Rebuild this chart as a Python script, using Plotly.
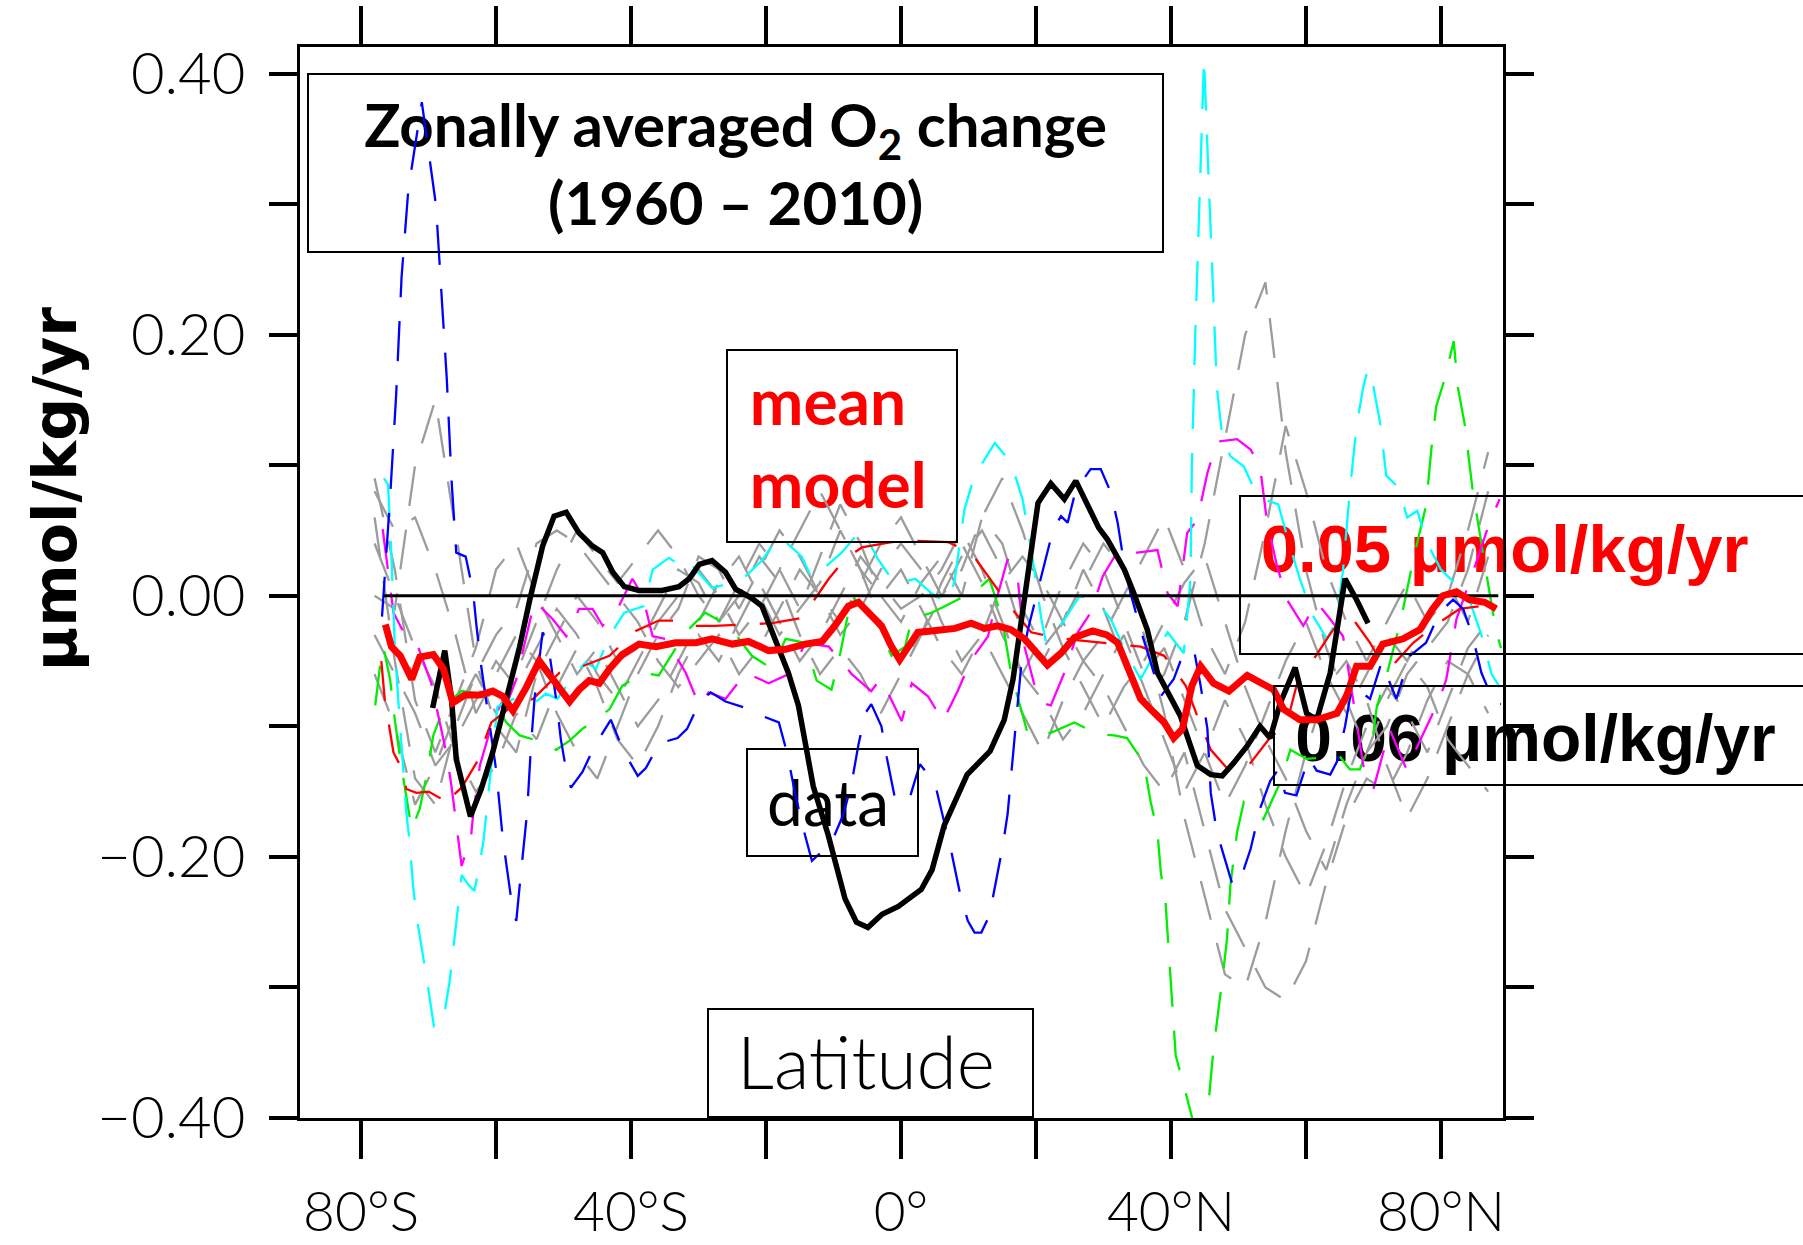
import plotly.graph_objects as go

# ---------------- data ----------------
LAT_GRID = [-78, -75, -72, -69, -66, -63, -60, -57, -54, -51,
            -48, -45, -42, -39, -36, -33, -30, -27, -24, -21,
            -18, -15, -12, -9, -6, -3, 0, 3, 6, 9,
            12, 15, 18, 21, 24, 27, 30, 33, 36, 39,
            42, 45, 48, 51, 54, 57, 60, 63, 66, 69,
            72, 75, 78, 81, 84, 87]

GREY_1 = [0.00, -0.01, 0.10, 0.15, 0.05, -0.05, -0.10, -0.12, -0.06, -0.03,
          0.00, -0.02, -0.05, -0.04, -0.01, 0.02, 0.01, -0.02, 0.01, 0.04,
          0.02, -0.01, 0.03, 0.07, 0.04, 0.00, -0.02, 0.01, 0.03, 0.00,
          0.06, 0.04, -0.01, -0.04, -0.02, 0.02, -0.01, -0.05, -0.08, -0.06,
          -0.02, 0.04, 0.12, 0.20, 0.24, 0.11, 0.02, -0.04, -0.08, -0.12,
          -0.10, -0.06, -0.04, -0.02, 0.02, 0.08]
GREY_2 = [0.06, -0.05, -0.14, -0.16, -0.10, -0.06, -0.03, -0.01, 0.04, 0.05,
          0.04, 0.02, 0.00, -0.02, -0.05, -0.07, -0.05, -0.03, -0.06, -0.04,
          -0.01, 0.02, 0.00, -0.03, -0.01, 0.02, 0.04, 0.02, -0.02, -0.05,
          -0.03, -0.06, -0.09, -0.12, -0.08, -0.05, -0.07, -0.10, -0.13, -0.15,
          -0.12, -0.18, -0.24, -0.27, -0.30, -0.31, -0.28, -0.22, -0.17, -0.14,
          -0.15, -0.12, -0.08, -0.05, -0.06, -0.09]
GREY_3 = [0.09, 0.02, -0.08, -0.12, -0.08, -0.04, 0.02, 0.04, 0.00, -0.03,
          -0.06, -0.04, -0.07, -0.10, -0.08, -0.05, -0.02, 0.01, 0.03, 0.00,
          -0.03, -0.01, 0.01, 0.05, 0.02, -0.02, -0.05, -0.03, 0.00, 0.03,
          0.05, 0.02, -0.03, -0.05, -0.02, 0.01, 0.04, 0.02, -0.03, -0.09,
          -0.17, -0.23, -0.29, -0.30, -0.25, -0.18, -0.12, -0.07, -0.05, -0.08,
          -0.13, -0.17, -0.14, -0.10, -0.06, -0.03]
GREY_4 = [-0.03, -0.06, -0.09, -0.13, -0.11, -0.08, -0.05, -0.07, -0.04, -0.01,
          -0.03, -0.06, -0.08, -0.05, -0.02, 0.00, 0.02, 0.00, -0.03, -0.01,
          0.02, 0.05, 0.08, 0.05, 0.02, 0.00, 0.02, -0.01, -0.04, -0.06,
          -0.03, 0.01, 0.03, 0.01, -0.02, -0.05, -0.03, 0.00, 0.03, 0.06,
          0.02, -0.03, -0.06, -0.02, 0.05, 0.13, 0.08, 0.02, -0.02, -0.05,
          -0.02, 0.01, -0.02, 0.00, 0.05, 0.11]
GREY_5 = [0.04, 0.00, -0.04, -0.07, -0.12, -0.15, -0.13, -0.09, -0.11, -0.07,
          -0.04, -0.07, -0.11, -0.13, -0.10, -0.06, -0.03, -0.05, -0.02, 0.01,
          -0.02, -0.05, -0.03, 0.00, 0.03, 0.01, -0.01, 0.00, 0.02, 0.05,
          0.02, -0.02, -0.06, -0.08, -0.11, -0.09, -0.06, -0.03, -0.07, -0.11,
          -0.15, -0.12, -0.08, -0.11, -0.16, -0.20, -0.23, -0.19, -0.14, -0.10,
          -0.07, -0.09, -0.12, -0.08, -0.04, -0.02]
GREY_6 = [0.08, 0.05, 0.06, 0.02, -0.03, -0.09, -0.06, -0.03, -0.05, -0.09,
          -0.12, -0.14, -0.10, -0.06, -0.03, -0.01, 0.03, 0.02, -0.01, 0.02,
          0.05, 0.03, 0.00, -0.02, 0.01, 0.04, 0.06, 0.03, 0.00, 0.02,
          0.06, 0.09, 0.05, 0.00, -0.04, -0.07, -0.10, -0.07, -0.05, -0.02,
          0.01, 0.03, -0.02, -0.07, -0.11, -0.14, -0.18, -0.21, -0.16, -0.12,
          -0.08, -0.05, -0.07, -0.11, -0.13, -0.15]
GREY_7 = [-0.06, -0.10, -0.16, -0.13, -0.09, -0.06, -0.09, -0.06, -0.02, 0.02,
          0.05, 0.03, 0.01, 0.03, 0.05, 0.03, 0.00, -0.02, 0.00, 0.03,
          0.01, -0.03, -0.06, -0.04, -0.06, -0.09, -0.06, -0.03, 0.01, 0.04,
          0.01, -0.03, -0.06, -0.03, 0.01, 0.04, 0.02, -0.02, -0.06, -0.04,
          -0.08, -0.12, -0.16, -0.13, -0.09, -0.05, -0.02, -0.06, -0.09, -0.06,
          -0.03, -0.05, -0.02, 0.01, -0.02, 0.03]
GREY_SERIES = [GREY_1, GREY_2, GREY_3, GREY_4, GREY_5, GREY_6, GREY_7]

BLUE = [(-76.9, -0.016), (-75.7, 0.075), (-74.8, 0.154), (-74.0, 0.244), (-73.0, 0.311),
        (-71.0, 0.378), (-68.9, 0.299), (-67.3, 0.166), (-66.6, 0.089), (-65.9, 0.033),
        (-64.5, 0.030), (-63.4, 0.003), (-62.9, -0.023), (-62.2, -0.054), (-60.0, -0.133),
        (-59.0, -0.186), (-57.5, -0.242), (-57.0, -0.249), (-56.5, -0.222), (-55.4, -0.166),
        (-54.8, -0.113), (-54.3, -0.079), (-53.1, -0.028), (-52.1, -0.044), (-51.1, -0.079),
        (-50.4, -0.110), (-49.6, -0.134), (-48.9, -0.147), (-47.2, -0.135), (-45.4, -0.115),
        (-43.0, -0.095), (-41.0, -0.120), (-39.0, -0.138), (-37.8, -0.132), (-35.8, -0.113),
        (-33.1, -0.109), (-31.7, -0.102), (-29.9, -0.082), (-28.2, -0.074), (-26.0, -0.081),
        (-22.3, -0.087), (-20.6, -0.092), (-18.1, -0.097), (-16.9, -0.120), (-15.7, -0.151),
        (-14.7, -0.174), (-13.2, -0.203), (-10.3, -0.189), (-8.5, -0.167), (-7.3, -0.143),
        (-6.3, -0.114), (-5.3, -0.090), (-4.4, -0.083), (-2.9, -0.100), (-2.1, -0.124),
        (-0.9, -0.155), (1.1, -0.158), (2.8, -0.129), (5.0, -0.143), (6.5, -0.174),
        (7.5, -0.197), (8.7, -0.227), (9.9, -0.249), (10.9, -0.258), (11.9, -0.258),
        (13.1, -0.245), (13.9, -0.223), (15.1, -0.191), (15.8, -0.167), (16.3, -0.138),
        (16.8, -0.113), (17.3, -0.085), (17.8, -0.054), (18.8, -0.026), (20.5, 0.010),
        (22.5, 0.050), (23.7, 0.061), (24.7, 0.056), (25.9, 0.081), (28.1, 0.097),
        (29.6, 0.097), (31.1, 0.079), (32.1, 0.056), (32.8, 0.033), (34.0, 0.002),
        (35.5, -0.026), (37.0, -0.051), (38.5, -0.077), (40.4, -0.064), (41.7, -0.046),
        (43.4, -0.041), (44.4, -0.069), (45.4, -0.102), (45.9, -0.151), (46.8, -0.181),
        (48.1, -0.204), (49.1, -0.221), (49.8, -0.222), (50.5, -0.214), (51.8, -0.194),
        (53.2, -0.163), (54.7, -0.142), (55.9, -0.133), (56.9, -0.151), (58.6, -0.153),
        (60.4, -0.124), (61.6, -0.134), (63.6, -0.137), (64.6, -0.127), (65.8, -0.100),
        (66.5, -0.079), (67.0, -0.069), (69.5, -0.079), (71.2, -0.051), (73.4, -0.079),
        (75.4, -0.046), (77.8, -0.036), (79.8, -0.013), (81.8, -0.003), (83.3, -0.010),
        (84.7, -0.031), (86.0, -0.059), (87.9, -0.082), (88.9, -0.083)]

CYAN = [(-76.6, 0.090), (-76.0, 0.085), (-75.5, 0.030), (-75.0, -0.039), (-74.5, -0.079),
        (-73.7, -0.135), (-73.3, -0.166), (-72.8, -0.189), (-72.3, -0.222), (-71.8, -0.245),
        (-70.8, -0.276), (-70.1, -0.299), (-69.2, -0.330), (-67.9, -0.328), (-66.9, -0.296),
        (-66.4, -0.273), (-65.7, -0.242), (-65.1, -0.214), (-64.0, -0.222), (-63.2, -0.226),
        (-62.7, -0.213), (-61.9, -0.189), (-61.3, -0.160), (-60.5, -0.120), (-59.8, -0.085),
        (-57.0, -0.078), (-54.5, -0.083), (-52.6, -0.075), (-50.9, -0.079), (-48.2, -0.059),
        (-46.7, -0.051), (-45.2, -0.056), (-43.2, -0.031), (-41.0, -0.013), (-38.1, -0.008),
        (-36.8, 0.020), (-34.4, 0.029), (-32.9, 0.024), (-31.9, 0.028), (-30.9, 0.023),
        (-28.0, 0.006), (-25.0, 0.010), (-23.0, 0.015), (-20.6, 0.027), (-18.1, 0.046),
        (-14.7, 0.030), (-13.2, 0.013), (-8.8, 0.033), (-5.8, 0.051), (-3.4, 0.028),
        (-0.9, 0.009), (2.1, 0.013), (4.5, 0.002), (6.7, -0.005), (7.9, 0.010),
        (9.4, 0.066), (10.9, 0.092), (13.9, 0.117), (16.3, 0.102), (18.0, 0.074),
        (18.8, 0.051), (19.8, 0.018), (20.8, -0.018), (21.5, -0.036), (24.0, -0.020),
        (26.5, 0.000), (29.1, -0.005), (31.1, -0.018), (33.0, -0.040), (35.5, -0.064),
        (37.5, -0.045), (39.5, -0.028), (41.9, -0.044), (42.9, 0.013), (43.1, 0.100),
        (43.6, 0.200), (44.2, 0.300), (44.9, 0.412), (45.5, 0.330), (46.2, 0.240),
        (46.8, 0.160), (47.6, 0.122), (48.8, 0.107), (50.8, 0.099), (52.5, 0.080),
        (53.7, 0.074), (55.9, 0.070), (57.5, 0.040), (59.1, 0.013), (61.0, -0.015),
        (63.1, -0.033), (64.5, -0.020), (65.5, 0.020), (66.5, 0.080), (67.5, 0.130),
        (68.5, 0.160), (69.2, 0.174), (70.0, 0.160), (71.0, 0.132), (71.9, 0.092),
        (73.7, 0.083), (75.0, 0.060), (76.5, 0.065), (78.0, 0.040), (80.0, 0.020),
        (82.0, 0.010), (84.0, 0.000), (86.0, -0.030), (87.5, -0.060), (88.7, -0.070)]

MAGENTA = [(-76.8, 0.051), (-76.0, 0.020), (-75.2, -0.013), (-73.5, -0.030), (-71.5, -0.040),
           (-69.6, -0.067), (-68.3, -0.097), (-67.3, -0.122), (-66.6, -0.146), (-65.9, -0.176),
           (-65.1, -0.207), (-63.7, -0.184), (-63.4, -0.168), (-62.4, -0.130), (-61.0, -0.105),
           (-59.5, -0.085), (-58.5, -0.084), (-57.0, -0.064), (-55.5, -0.031), (-54.3, -0.004),
           (-51.6, -0.018), (-49.6, -0.031), (-47.7, -0.010), (-45.7, -0.010), (-44.2, -0.023),
           (-41.8, -0.008), (-39.8, 0.013), (-38.3, 0.000), (-36.8, -0.031), (-34.9, -0.033),
           (-31.9, -0.059), (-29.9, -0.084), (-28.5, -0.074), (-26.0, -0.079), (-23.0, -0.059),
           (-19.6, -0.067), (-16.2, -0.059), (-14.2, -0.036), (-10.7, -0.039), (-7.3, -0.060),
           (-4.4, -0.073), (-3.1, -0.064), (-1.6, -0.078), (0.1, -0.096), (1.6, -0.067),
           (4.0, -0.077), (6.2, -0.096), (8.4, -0.073), (10.4, -0.049), (12.9, -0.031),
           (14.3, 0.000), (15.8, 0.028), (17.3, 0.013), (18.3, -0.039), (19.8, -0.069),
           (20.8, -0.082), (22.2, -0.084), (24.2, -0.059), (26.2, -0.028), (28.1, -0.013),
           (29.9, 0.015), (32.1, 0.034), (35.0, 0.033), (38.0, 0.035), (39.5, 0.002),
           (41.0, -0.008), (42.4, 0.048), (43.9, 0.058), (45.4, 0.094), (46.8, 0.118),
           (49.8, 0.120), (51.8, 0.112), (53.2, 0.099), (54.2, 0.058), (55.7, 0.023),
           (57.2, -0.003), (59.6, -0.023), (61.6, -0.005), (63.6, -0.018), (65.5, -0.031),
           (67.0, -0.080), (68.5, -0.130), (70.0, -0.148), (72.4, -0.102), (74.9, -0.133),
           (78.3, -0.095), (79.8, -0.079), (80.8, -0.064), (82.3, -0.018), (85.2, 0.025),
           (87.2, 0.056), (88.7, 0.074)]

GREEN = [(-77.9, -0.084), (-77.2, -0.054), (-76.7, -0.039), (-75.7, -0.064), (-75.0, -0.095),
         (-74.2, -0.125), (-72.5, -0.179), (-71.3, -0.163), (-70.3, -0.138), (-69.3, -0.107),
         (-67.6, -0.084), (-65.1, -0.073), (-62.5, -0.075), (-60.7, -0.077), (-58.5, -0.097),
         (-56.5, -0.107), (-54.5, -0.110), (-51.1, -0.118), (-49.1, -0.111), (-47.2, -0.102),
         (-43.2, -0.087), (-41.3, -0.069), (-38.3, -0.059), (-35.9, -0.061), (-31.9, -0.028),
         (-29.0, -0.013), (-25.5, -0.023), (-22.1, -0.046), (-19.1, -0.056), (-17.1, -0.033),
         (-14.2, -0.036), (-12.5, -0.065), (-10.3, -0.072), (-9.0, -0.044), (-7.3, 0.000),
         (-3.4, -0.023), (-1.4, -0.046), (0.6, -0.039), (1.6, -0.018), (4.5, -0.013),
         (6.5, -0.008), (11.4, 0.005), (13.1, 0.013), (14.4, -0.008), (15.3, -0.028),
         (16.3, -0.059), (18.8, -0.106), (22.2, -0.105), (25.7, -0.097), (29.1, -0.106),
         (31.6, -0.107), (33.5, -0.109), (36.0, -0.128), (37.0, -0.158), (38.0, -0.181),
         (38.5, -0.212), (39.2, -0.235), (39.9, -0.291), (40.7, -0.352), (41.9, -0.375),
         (43.1, -0.399), (44.2, -0.430), (45.4, -0.398), (46.3, -0.347), (47.1, -0.316),
         (47.8, -0.286), (48.3, -0.263), (48.8, -0.222), (49.8, -0.181), (50.8, -0.158),
         (53.7, -0.171), (56.2, -0.143), (57.7, -0.118), (60.1, -0.125), (65.0, -0.123),
         (66.5, -0.133), (68.0, -0.133), (70.0, -0.105), (70.5, -0.085), (72.0, -0.060),
         (74.0, -0.020), (76.0, 0.030), (77.8, 0.069), (78.6, 0.113), (79.3, 0.145),
         (80.5, 0.165), (81.9, 0.195), (82.5, 0.160), (83.5, 0.132), (84.7, 0.081),
         (86.7, 0.018), (88.2, -0.028), (88.9, -0.040)]

RED_THIN = [(-77.0, -0.050), (-76.5, -0.079), (-75.2, -0.120), (-74.2, -0.130), (-73.3, -0.148),
            (-71.8, -0.151), (-70.0, -0.150), (-68.3, -0.155), (-67.6, -0.161), (-66.4, -0.153),
            (-65.1, -0.147), (-62.9, -0.128), (-60.7, -0.097), (-57.5, -0.084), (-54.5, -0.079),
            (-50.6, -0.059), (-47.2, -0.054), (-43.2, -0.046), (-39.3, -0.027), (-35.9, -0.019),
            (-32.9, -0.019), (-31.4, -0.023), (-27.5, -0.023), (-22.8, -0.022), (-19.1, -0.021),
            (-14.7, -0.017), (-10.7, 0.013), (-8.3, 0.028), (-5.8, 0.037), (-1.4, 0.041),
            (2.1, 0.042), (7.0, 0.041), (10.4, 0.033), (12.9, 0.015), (16.1, -0.008),
            (19.3, -0.028), (23.0, -0.032), (26.0, -0.034), (30.0, -0.036), (35.5, -0.039),
            (39.0, -0.046), (42.2, -0.069), (43.9, -0.092), (45.9, -0.118), (48.8, -0.135),
            (51.8, -0.128), (54.5, -0.110), (57.2, -0.097), (59.1, -0.059), (61.1, -0.049),
            (63.5, -0.030), (65.5, -0.016), (67.0, -0.018), (69.5, -0.036), (71.4, -0.053),
            (72.9, -0.053), (75.9, -0.036), (79.3, -0.022), (82.8, -0.010), (85.7, -0.008),
            (88.2, -0.010)]

DATA_OBS = [(-69.4, -0.086), (-67.6, -0.042), (-66.6, -0.079), (-65.9, -0.125), (-63.8, -0.169),
            (-62.2, -0.148), (-60.5, -0.120), (-58.5, -0.079), (-56.5, -0.039), (-55.0, -0.003),
            (-53.1, 0.038), (-51.4, 0.061), (-49.6, 0.064), (-47.7, 0.048), (-45.7, 0.038),
            (-44.2, 0.033), (-42.7, 0.018), (-41.0, 0.007), (-38.8, 0.004), (-35.4, 0.004),
            (-32.9, 0.007), (-31.4, 0.013), (-29.9, 0.024), (-28.0, 0.027), (-26.0, 0.018),
            (-24.5, 0.005), (-22.1, -0.002), (-20.6, -0.008), (-18.6, -0.033), (-16.7, -0.059),
            (-15.2, -0.084), (-14.2, -0.110), (-13.0, -0.146), (-10.8, -0.183), (-8.3, -0.232),
            (-6.6, -0.250), (-4.9, -0.254), (-2.8, -0.244), (-0.4, -0.238), (3.0, -0.225),
            (4.6, -0.210), (6.4, -0.176), (9.8, -0.137), (13.2, -0.119), (15.3, -0.095),
            (16.6, -0.064), (17.8, -0.018), (18.8, 0.013), (20.3, 0.071), (22.2, 0.086),
            (24.2, 0.074), (25.9, 0.088), (27.6, 0.069), (29.3, 0.052), (30.6, 0.043),
            (33.1, 0.020), (34.5, 0.002), (36.5, -0.026), (38.0, -0.059), (39.0, -0.069),
            (41.4, -0.092), (42.9, -0.115), (43.9, -0.130), (45.9, -0.137), (47.6, -0.138),
            (49.3, -0.128), (51.3, -0.115), (53.2, -0.100), (54.7, -0.109), (56.2, -0.082),
            (58.4, -0.055), (60.1, -0.090), (61.6, -0.095), (63.6, -0.059), (64.6, -0.028),
            (65.8, 0.013), (67.5, -0.003), (69.2, -0.021)]

MEAN_MODEL = [(-76.4, -0.022), (-75.5, -0.039), (-74.2, -0.046), (-72.5, -0.064), (-71.3, -0.047),
              (-69.3, -0.045), (-67.8, -0.056), (-66.4, -0.082), (-64.6, -0.076), (-62.4, -0.076),
              (-60.5, -0.073), (-59.0, -0.077), (-57.5, -0.088), (-55.5, -0.070), (-53.6, -0.050),
              (-51.6, -0.064), (-49.1, -0.081), (-47.7, -0.072), (-46.2, -0.065), (-44.7, -0.067),
              (-43.2, -0.056), (-41.3, -0.045), (-38.8, -0.037), (-36.3, -0.039), (-33.4, -0.036),
              (-30.4, -0.036), (-28.0, -0.033), (-25.0, -0.037), (-22.6, -0.035), (-19.6, -0.042),
              (-17.1, -0.041), (-14.2, -0.037), (-11.7, -0.035), (-9.8, -0.023), (-7.8, -0.008),
              (-6.3, -0.005), (-4.8, -0.013), (-2.9, -0.023), (-1.4, -0.039), (-0.2, -0.049),
              (1.1, -0.039), (2.5, -0.028), (4.5, -0.027), (8.0, -0.025), (10.4, -0.021),
              (12.4, -0.025), (14.3, -0.023), (16.3, -0.026), (18.3, -0.033), (19.8, -0.041),
              (21.7, -0.053), (23.7, -0.044), (25.7, -0.032), (28.4, -0.027), (30.5, -0.030),
              (32.1, -0.036), (33.5, -0.054), (35.5, -0.079), (37.0, -0.087), (39.0, -0.097),
              (40.4, -0.109), (41.7, -0.102), (43.1, -0.069), (44.4, -0.054), (46.3, -0.067),
              (48.6, -0.073), (51.3, -0.061), (53.2, -0.067), (55.2, -0.072), (56.7, -0.087),
              (59.1, -0.095), (61.6, -0.095), (64.6, -0.090), (66.0, -0.077), (67.5, -0.054),
              (69.5, -0.054), (71.4, -0.037), (74.4, -0.033), (76.9, -0.026), (78.8, -0.010),
              (80.3, 0.000), (82.3, 0.003), (84.2, -0.003), (86.5, -0.005), (88.2, -0.010)]

ZERO_LAT = [-76.7, 88.5]
ZERO_VAL = [0.0, 0.0]

X_TICKS = [-80, -60, -40, -20, 0, 20, 40, 60, 80]
X_TICK_TEXT = ["80°S", " ", "40°S", " ", "0°", " ", "40°N", " ", "80°N"]
Y_TICKS = [-0.4, -0.3, -0.2, -0.1, 0.0, 0.1, 0.2, 0.3, 0.4]
Y_TICK_TEXT = ["\u22120.40", " ", "\u22120.20", " ", "0.00", " ", "0.20", " ", "0.40"]

for g in GREY_SERIES:
    assert len(g) == len(LAT_GRID)

# ---------------- figure ----------------
W, H = 1803, 1245
ML, MR, MT, MB = 300, 300, 47, 127
XR = [-89.05, 89.2]
YR = [-0.4, 0.4203]

THIN_FONT = "Lato"
BOLD_SANS = "Liberation Sans"

fig = go.Figure()


def add_text(x, y, text, pos, family, size, color, weight="normal"):
    fig.add_trace(go.Scatter(
        x=[x], y=[y], mode="text", text=[text], textposition=pos,
        textfont=dict(family=family, size=size, color=color, weight=weight),
        hoverinfo="skip", showlegend=False, cliponaxis=False))


# text labels first so that the curves are drawn over them (as in the reference)
add_text(-24.5, 0.3253, "Zonally averaged O<sub>2</sub> change<br>(1960 \u2013 2010)",
         "middle center", "Lato", 60, "black", "bold")
add_text(-22.4, 0.1110, "mean<br>model", "middle right", "Lato", 64, "#ff0000", "bold")
add_text(-10.8, -0.1638, "data", "middle center", "Lato", 64, "black")
add_text(-5.2, -0.3635, "Latitude", "middle center", THIN_FONT, 73, "black", 300)
add_text(53.3, 0.0314, "0.05 \u03bcmol/kg/yr", "middle right", BOLD_SANS, 67, "#ff0000", "bold")
add_text(58.4, -0.1138, "0.06 \u03bcmol/kg/yr", "middle right", BOLD_SANS, 66, "black", "bold")

DASH = "40px,24px"


def unzip(pairs):
    return [p[0] for p in pairs], [p[1] for p in pairs]


for g in GREY_SERIES:
    fig.add_trace(go.Scatter(x=LAT_GRID, y=g, mode="lines",
                             line=dict(color="#9c9c9c", width=2.3, dash=DASH),
                             hoverinfo="skip", showlegend=False))

for pairs, col in [(GREEN, "#00ee00"), (MAGENTA, "#ff00ff"), (CYAN, "#00ffff"),
                   (RED_THIN, "#ff0000"), (BLUE, "#0000ff")]:
    xs, ys = unzip(pairs)
    fig.add_trace(go.Scatter(x=xs, y=ys, mode="lines",
                             line=dict(color=col, width=2.3, dash=DASH),
                             hoverinfo="skip", showlegend=False))

fig.add_trace(go.Scatter(x=ZERO_LAT, y=ZERO_VAL, mode="lines",
                         line=dict(color="black", width=3),
                         hoverinfo="skip", showlegend=False))

xs, ys = unzip(DATA_OBS)
fig.add_trace(go.Scatter(x=xs, y=ys, mode="lines",
                         line=dict(color="black", width=5.5),
                         hoverinfo="skip", showlegend=False))
xs, ys = unzip(MEAN_MODEL)
fig.add_trace(go.Scatter(x=xs, y=ys, mode="lines",
                         line=dict(color="#ff0000", width=7),
                         hoverinfo="skip", showlegend=False))

# boxes (pixel rectangles converted to paper coordinates)
PW, PH = W - ML - MR, H - MT - MB


def px_box(x0, y0, x1, y1):
    return dict(type="rect", xref="paper", yref="paper",
                x0=(x0 - ML) / PW, x1=(x1 - ML) / PW,
                y0=(H - MB - y1) / PH, y1=(H - MB - y0) / PH,
                line=dict(color="black", width=2), fillcolor="rgba(0,0,0,0)",
                layer="above")


fig.update_layout(shapes=[
    px_box(308, 74, 1163, 252),
    px_box(727, 350, 957, 542),
    px_box(747, 749, 918, 856),
    px_box(708, 1009, 1033, 1117),
    px_box(1240, 496, 1830, 654),
    px_box(1274, 686, 1830, 785),
])

fig.add_annotation(xref="paper", yref="paper",
                   x=(55 - ML) / PW, y=(H - MB - 489) / PH,
                   text="\u03bcmol/kg/yr", textangle=-90, showarrow=False,
                   xanchor="center", yanchor="middle",
                   font=dict(family="DejaVu Sans", size=60, color="black", weight="bold"))

ytickfont = dict(family=THIN_FONT, size=58, color="black", weight=300)
xtickfont = dict(family=THIN_FONT, size=55, color="black", weight=300)
fig.update_xaxes(range=XR, tickvals=X_TICKS, ticktext=X_TICK_TEXT, automargin=False,
                 ticks="outside", ticklen=38, tickwidth=3.5, tickcolor="black",
                 showline=True, linewidth=3, linecolor="black", mirror="ticks",
                 showgrid=False, zeroline=False, tickfont=xtickfont, ticklabelstandoff=6)
fig.update_yaxes(range=YR, tickvals=Y_TICKS, ticktext=Y_TICK_TEXT, automargin=False,
                 ticks="outside", ticklen=28, tickwidth=3.5, tickcolor="black",
                 showline=True, linewidth=3, linecolor="black", mirror="ticks",
                 showgrid=False, zeroline=False, tickfont=ytickfont, ticklabelstandoff=12)

fig.update_layout(width=W, height=H, margin=dict(l=ML, r=MR, t=MT, b=MB, autoexpand=False),
                  paper_bgcolor="white", plot_bgcolor="white", showlegend=False)

fig.write_html("out.html")
